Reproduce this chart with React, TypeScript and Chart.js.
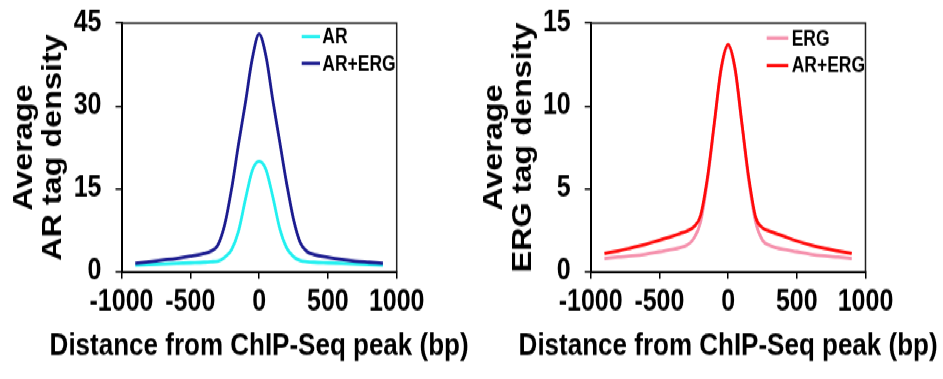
import React, { useEffect, useRef } from "react";
import { Chart, registerables } from "chart.js";

Chart.register(...registerables);

// ---- data ----
const distances = [-900, -800, -700, -600, -500, -400, -350, -300, -250, -200, -150, -100, -50, 0, 50, 100, 150, 200, 250, 300, 350, 400, 500, 600, 700, 800, 900];
const arOnly = [1.2, 1.3, 1.4, 1.5, 1.6, 1.7, 1.8, 1.9, 2.6, 4.0, 7.3, 13.0, 18.3, 20.0, 18.5, 13.5, 7.8, 4.3, 2.7, 2.0, 1.8, 1.7, 1.6, 1.5, 1.4, 1.3, 1.2];
const arWithErg = [1.5, 1.8, 2.1, 2.4, 2.8, 3.3, 3.7, 4.8, 8.5, 15.0, 23.0, 30.5, 38.5, 43.0, 39.0, 31.0, 23.5, 16.0, 9.5, 5.2, 3.6, 3.1, 2.6, 2.2, 1.9, 1.7, 1.5];
const ergOnly = [0.8, 0.88, 0.95, 1.05, 1.2, 1.35, 1.45, 1.6, 2.0, 3.0, 5.5, 8.9, 12.2, 13.6, 12.2, 8.9, 5.5, 3.0, 1.9, 1.6, 1.45, 1.35, 1.2, 1.05, 0.95, 0.88, 0.8];
const ergWithAr = [1.1, 1.25, 1.45, 1.65, 1.9, 2.15, 2.3, 2.45, 2.7, 3.4, 5.7, 9.0, 12.3, 13.7, 12.3, 9.0, 5.7, 3.3, 2.65, 2.45, 2.3, 2.15, 1.85, 1.6, 1.4, 1.25, 1.1];

const xTicks = [-1000, -500, 0, 500, 1000];
const leftYTicks = [0, 15, 30, 45];
const rightYTicks = [0, 5, 10, 15];

const xTitle = "Distance from ChIP-Seq peak (bp)";
const leftYTitle = ["Average", "AR tag density"];
const rightYTitle = ["Average", "ERG tag density"];
const leftLabels = ["AR", "AR+ERG"];
const rightLabels = ["ERG", "AR+ERG"];

const FONT = "'Liberation Sans', Arial, Helvetica, sans-serif";
const H = 316;
const STRETCH = 379 / H;

type Series = { label: string; values: number[]; color: string; order: number };

type PanelSpec = {
  width: number;
  areaLeft: number;
  areaRight: number;
  yMax: number;
  yTicks: number[];
  yTitle: string[];
  series: Series[];
  legend: { x0: number; x1: number; tx: number; rows: number[] };
};

const AREA_TOP = 19.2;
const AREA_BOTTOM = 226.6;
const X_BOX = 40;

function makeConfig(spec: PanelSpec): any {
  const framePlugin = {
    id: "frameBox",
    afterDraw(chart: any) {
      const { ctx, chartArea } = chart;
      ctx.save();
      ctx.strokeStyle = "#222";
      ctx.lineWidth = 1.5;
      ctx.beginPath();
      ctx.moveTo(chartArea.left, chartArea.top);
      ctx.lineTo(chartArea.right, chartArea.top);
      ctx.lineTo(chartArea.right, chartArea.bottom);
      ctx.stroke();
      ctx.restore();
    },
  };
  const legendPlugin = {
    id: "insideLegend",
    afterDraw(chart: any) {
      const { ctx } = chart;
      ctx.save();
      ctx.font = `bold 17.5px ${FONT}`;
      ctx.textBaseline = "middle";
      ctx.textAlign = "left";
      spec.series.forEach((s, i) => {
        const y = spec.legend.rows[i];
        ctx.strokeStyle = s.color;
        ctx.lineWidth = 2.8;
        ctx.beginPath();
        ctx.moveTo(spec.legend.x0, y);
        ctx.lineTo(spec.legend.x1, y);
        ctx.stroke();
        ctx.fillStyle = "#000";
        ctx.fillText(s.label, spec.legend.tx, y + 1);
      });
      ctx.restore();
    },
  };
  const xTitlePlugin = {
    id: "xTitleText",
    afterDraw(chart: any) {
      const { ctx, chartArea } = chart;
      ctx.save();
      ctx.font = `bold 26px ${FONT}`;
      ctx.textBaseline = "middle";
      ctx.textAlign = "center";
      ctx.fillStyle = "#000";
      ctx.fillText(xTitle, (chartArea.left + chartArea.right) / 2, 288.5);
      ctx.restore();
    },
  };

  return {
    type: "line",
    data: {
      datasets: spec.series.map((s) => ({
        label: s.label,
        data: distances.map((x, i) => ({ x, y: s.values[i] })),
        borderColor: s.color,
        backgroundColor: s.color,
        borderWidth: 2.8,
        pointRadius: 0,
        fill: false,
        cubicInterpolationMode: "monotone",
        order: s.order,
      })),
    },
    options: {
      animation: false,
      responsive: true,
      maintainAspectRatio: false,
      layout: {
        autoPadding: false,
        padding: {
          left: 0,
          top: AREA_TOP,
          right: spec.width - spec.areaRight,
          bottom: H - AREA_BOTTOM - X_BOX,
        },
      },
      plugins: {
        legend: { display: false },
        tooltip: { enabled: false },
        title: { display: false },
      },
      scales: {
        x: {
          type: "linear",
          min: -1000,
          max: 1000,
          afterBuildTicks: (s: any) => {
            s.ticks = xTicks.map((v) => ({ value: v }));
          },
          afterFit: (s: any) => {
            s.height = X_BOX;
            s.paddingLeft = 0;
            s.paddingRight = 0;
            s.paddingTop = 0;
            s.paddingBottom = 0;
          },
          ticks: {
            color: "#000",
            font: { family: FONT, size: 25, weight: "bold", lineHeight: 1.2 },
            padding: 5,
            maxRotation: 0,
            autoSkip: false,
            callback: (v: any) => String(v),
          },
          grid: { drawOnChartArea: false, drawTicks: true, tickLength: 6, color: "#000", lineWidth: 1.5 },
          border: { display: true, color: "#000", width: 2 },
        },
        y: {
          type: "linear",
          min: 0,
          max: spec.yMax,
          afterBuildTicks: (s: any) => {
            s.ticks = spec.yTicks.map((v) => ({ value: v }));
          },
          afterFit: (s: any) => {
            s.width = spec.areaLeft;
            s.paddingLeft = 0;
            s.paddingRight = 0;
            s.paddingTop = 0;
            s.paddingBottom = 0;
          },
          ticks: {
            color: "#000",
            font: { family: FONT, size: 25, weight: "bold" },
            padding: 14,
            callback: (v: any) => String(v),
          },
          grid: { drawOnChartArea: false, drawTicks: true, tickLength: 6, color: "#000", lineWidth: 1.5 },
          border: { display: true, color: "#000", width: 2 },
          title: {
            display: true,
            text: spec.yTitle,
            color: "#000",
            font: { family: FONT, size: 27, weight: "bold", lineHeight: 1.04 },
            padding: { top: 11, bottom: 0 },
          },
        },
      },
    },
    plugins: [framePlugin, legendPlugin, xTitlePlugin],
  };
}

const leftSpec: PanelSpec = {
  width: 470,
  areaLeft: 121.5,
  areaRight: 396.7,
  yMax: 45,
  yTicks: leftYTicks,
  yTitle: leftYTitle,
  series: [
    { label: leftLabels[0], values: arOnly, color: "#22f0f0", order: 1 },
    { label: leftLabels[1], values: arWithErg, color: "#1b1b8f", order: 0 },
  ],
  legend: { x0: 301.7, x1: 320, tx: 322.3, rows: [30.6, 52.8] },
};

const rightSpec: PanelSpec = {
  width: 473,
  areaLeft: 120.7,
  areaRight: 395.5,
  yMax: 15,
  yTicks: rightYTicks,
  yTitle: rightYTitle,
  series: [
    { label: rightLabels[0], values: ergOnly, color: "#f590ac", order: 1 },
    { label: rightLabels[1], values: ergWithAr, color: "#ff0a0a", order: 0 },
  ],
  legend: { x0: 296.7, x1: 318.3, tx: 321.7, rows: [31.7, 54.6] },
};

function Panel({ spec }: { spec: PanelSpec }) {
  const ref = useRef<HTMLCanvasElement | null>(null);
  useEffect(() => {
    if (!ref.current) return;
    const chart = new Chart(ref.current, makeConfig(spec));
    return () => chart.destroy();
  }, [spec]);
  return (
    <div style={{ position: "relative", width: spec.width, height: H }}>
      <canvas ref={ref} />
    </div>
  );
}

export default function App() {
  return (
    <div
      style={{
        position: "fixed",
        left: 0,
        top: 0,
        width: 943,
        height: H,
        display: "flex",
        background: "#fff",
        transform: `scaleY(${STRETCH})`,
        transformOrigin: "0 0",
      }}
    >
      <Panel spec={leftSpec} />
      <Panel spec={rightSpec} />
    </div>
  );
}
